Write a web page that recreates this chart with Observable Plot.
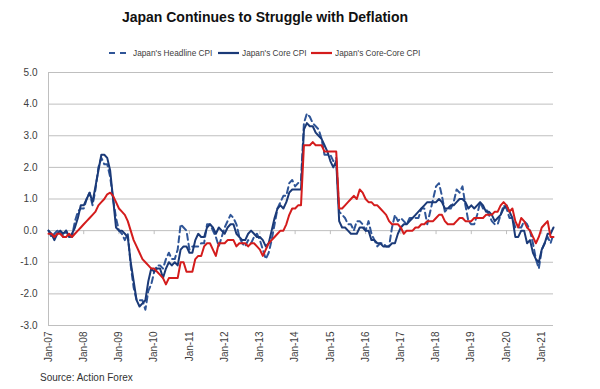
<!DOCTYPE html>
<html><head><meta charset="utf-8">
<script src="https://cdn.jsdelivr.net/npm/d3@7"></script>
<script src="https://cdn.jsdelivr.net/npm/@observablehq/plot@0.6"></script>
<style>
body{margin:0;background:#fff;}
#wrap{position:relative;width:600px;height:389px;font-family:"Liberation Sans",Arial,sans-serif;overflow:hidden;background:#fff;}
#title{position:absolute;left:0;width:530px;top:9px;text-align:center;font-weight:bold;font-size:14px;line-height:16px;color:#111;}
.li{position:absolute;top:47px;height:12px;display:flex;align-items:center;font-size:9px;line-height:12px;color:#404040;white-space:nowrap;}
.li svg{margin-right:3px;}
.li span{display:inline-block;transform:scaleX(0.92);transform-origin:0 50%;}
#chart{position:absolute;left:0;top:62px;}
#source{position:absolute;left:40px;top:372px;font-size:10px;line-height:12px;color:#333;}
</style>
</head><body>
<div id="wrap">
  <div id="title"></div>
  <div id="legend"></div>
  <div id="chart"></div>
  <div id="source"></div>
</div>
<script>
const titleText = "Japan Continues to Struggle with Deflation";
const sourceText = "Source: Action Forex";
const seriesNames = ["Japan's Headline CPI", "Japan's Core CPI", "Japan's Core-Core CPI"];
const xLabels = ["Jan-07","Jan-08","Jan-09","Jan-10","Jan-11","Jan-12","Jan-13","Jan-14","Jan-15","Jan-16","Jan-17","Jan-18","Jan-19","Jan-20","Jan-21"];
const yTicks = [-3,-2,-1,0,1,2,3,4,5];

// monthly y/y %, Jan 2007 - May 2021
const headline = [
  0.0,-0.2,-0.1,0.0,0.0,-0.2,0.0,-0.2,-0.2,0.3,0.6,0.7,
  0.7,1.0,1.2,0.8,1.3,2.0,2.3,2.1,2.1,1.7,1.0,0.4,
  0.0,-0.1,-0.3,-0.1,-1.1,-1.8,-2.2,-2.2,-2.2,-2.5,-1.9,-1.7,
  -1.3,-1.1,-1.1,-1.2,-0.9,-0.7,-0.9,-0.9,-0.6,0.2,0.1,0.0,
  -0.6,-0.5,-0.5,-0.5,-0.4,-0.4,0.2,0.2,0.0,-0.2,-0.5,-0.2,
  0.1,0.3,0.5,0.4,0.2,-0.2,-0.4,-0.5,-0.3,-0.4,-0.2,-0.1,
  -0.3,-0.6,-0.9,-0.7,-0.3,0.2,0.7,0.9,1.1,1.1,1.5,1.6,
  1.4,1.5,1.6,3.4,3.7,3.6,3.4,3.3,3.2,2.9,2.4,2.4,
  2.4,2.2,2.3,0.6,0.5,0.4,0.2,0.2,0.0,0.3,0.3,0.2,
  0.0,0.3,-0.1,-0.3,-0.5,-0.4,-0.4,-0.5,-0.5,0.1,0.5,0.3,
  0.4,0.3,0.2,0.4,0.4,0.4,0.4,0.7,0.7,0.2,0.6,1.0,
  1.4,1.5,1.1,0.6,0.7,0.7,0.9,1.3,1.2,1.4,0.8,0.3,
  0.2,0.2,0.5,0.9,0.7,0.7,0.5,0.3,0.2,0.2,0.5,0.8,
  0.7,0.4,0.4,0.1,0.1,0.1,0.3,0.2,0.0,-0.4,-0.9,-1.2,
  -0.6,-0.4,-0.2,-0.4,-0.1
];
const core = [
  0.0,-0.1,-0.3,-0.1,0.0,-0.1,0.0,-0.2,-0.1,0.1,0.4,0.8,
  0.8,1.0,1.2,0.9,1.4,1.9,2.4,2.4,2.3,1.9,1.0,0.1,
  0.0,0.0,-0.1,-0.2,-1.0,-1.6,-2.2,-2.4,-2.3,-2.2,-1.6,-1.2,
  -1.3,-1.2,-1.2,-1.5,-1.2,-1.0,-1.1,-1.0,-1.1,-0.6,-0.5,-0.5,
  -0.7,-0.7,-0.3,-0.1,-0.2,-0.2,0.1,0.2,0.1,-0.1,0.1,0.0,
  -0.1,0.1,0.2,0.2,-0.1,-0.2,-0.3,-0.3,-0.1,0.0,-0.1,-0.2,
  -0.2,-0.3,-0.5,-0.4,0.0,0.4,0.7,0.8,0.7,0.9,1.2,1.3,
  1.3,1.3,1.3,3.2,3.4,3.3,3.3,3.1,3.0,2.9,2.7,2.5,
  2.2,2.0,2.2,0.3,0.1,0.1,0.0,-0.1,-0.1,-0.1,0.1,0.1,
  0.0,0.0,-0.3,-0.3,-0.4,-0.4,-0.5,-0.5,-0.5,-0.4,-0.4,-0.1,
  0.1,0.2,0.2,0.3,0.4,0.5,0.6,0.7,0.8,0.9,0.9,0.9,
  0.9,1.0,0.9,0.7,0.7,0.8,0.8,0.9,1.0,1.0,0.9,0.7,
  0.8,0.7,0.8,0.9,0.8,0.6,0.6,0.5,0.3,0.4,0.5,0.7,
  0.8,0.6,0.4,-0.2,-0.2,0.0,0.0,-0.4,-0.3,-0.7,-0.9,-1.0,
  -0.6,-0.4,-0.1,-0.1,0.1
];
const coreCore = [
  -0.1,-0.1,-0.2,-0.1,-0.1,-0.2,-0.2,-0.1,-0.2,-0.1,0.0,0.1,
  0.2,0.3,0.4,0.5,0.6,0.8,0.9,1.0,1.15,1.2,1.1,0.9,
  0.7,0.6,0.5,0.3,0.0,-0.3,-0.5,-0.7,-0.9,-1.0,-1.1,-1.2,
  -1.2,-1.3,-1.4,-1.5,-1.7,-1.5,-1.5,-1.5,-1.5,-1.0,-1.0,-1.3,
  -1.3,-1.3,-0.9,-0.8,-0.8,-0.5,-0.4,-0.4,-0.6,-0.8,-0.4,-0.4,
  -0.4,-0.3,-0.3,-0.3,-0.5,-0.4,-0.4,-0.4,-0.5,-0.4,-0.4,-0.5,
  -0.6,-0.8,-0.6,-0.4,-0.3,-0.2,-0.1,0.0,0.0,0.2,0.5,0.7,
  0.7,0.8,0.8,2.7,2.7,2.7,2.8,2.7,2.7,2.7,2.5,2.5,
  2.5,2.5,2.5,0.7,0.7,0.8,0.9,1.0,1.1,1.0,1.3,1.2,
  1.0,0.9,0.9,0.8,0.8,0.7,0.6,0.5,0.3,0.2,0.2,0.2,
  0.1,-0.1,0.0,0.0,0.0,0.1,0.1,0.2,0.2,0.3,0.3,0.3,
  0.4,0.5,0.5,0.3,0.2,0.2,0.2,0.3,0.4,0.4,0.3,0.3,
  0.3,0.4,0.4,0.4,0.4,0.5,0.5,0.5,0.6,0.6,0.8,0.9,
  0.8,0.6,0.7,0.3,0.1,0.4,0.3,0.1,0.0,-0.2,-0.4,-0.2,
  0.1,0.2,0.3,-0.2,-0.2
];
const seriesValues = [headline, core, coreCore];
const seriesColors = ["#2f5597", "#1b3a78", "#d41c1c"];
const seriesDash = ["6,4", null, null];
const legendLeft = [109, 218, 311];

document.getElementById("title").textContent = titleText;
document.getElementById("source").textContent = sourceText;

// legend
const legend = document.getElementById("legend");
seriesNames.forEach((name, k) => {
  const div = document.createElement("div");
  div.className = "li";
  div.style.left = legendLeft[k] + "px";
  const dash = seriesDash[k] ? `stroke-dasharray="6,5"` : "";
  div.innerHTML = `<svg width="21" height="4"><line x1="0" y1="2" x2="21" y2="2" stroke="${seriesColors[k]}" stroke-width="2.2" ${dash}/></svg><span></span>`;
  div.querySelector("span").textContent = name;
  legend.appendChild(div);
});

const xTickPos = xLabels.map((_, i) => i * 12);
const nMonths = headline.length;

const data = [];
seriesNames.forEach((name, k) => seriesValues[k].forEach((v, i) => data.push({series: name, m: i, v})));

const chart = Plot.plot({
  width: 600,
  height: 310,
  marginLeft: 48,
  marginRight: 47,
  marginTop: 10,
  marginBottom: 47,
  x: {domain: [0, nMonths - 1], label: null},
  y: {domain: [-3, 5], label: null},
  style: {fontFamily: '"Liberation Sans", Arial, sans-serif', fontSize: "10px", color: "#404040", background: "#fff"},
  marks: [
    Plot.ruleY(yTicks, {stroke: "#bfbfbf", strokeWidth: 1, strokeOpacity: 1}),
    Plot.ruleX([0], {stroke: "#bfbfbf", strokeWidth: 1, strokeOpacity: 1}),
    Plot.ruleX(xTickPos, {x: d => d, y1: d => 0, y2: d => 0, insetBottom: -4, stroke: "#bfbfbf", strokeOpacity: 1}),
    Plot.axisY({ticks: yTicks, tickSize: 0, tickPadding: 11, tickFormat: d => d.toFixed(1), fontSize: 10, label: null}),
    Plot.axisX({ticks: xTickPos, tickSize: 0, tickPadding: 6, tickRotate: -90, tickFormat: d => xLabels[d / 12], fontSize: 10, label: null}),
    ...seriesNames.map((name, k) => Plot.line(data.filter(d => d.series === name), {
      x: "m", y: "v", stroke: seriesColors[k], strokeWidth: 2,
      strokeDasharray: seriesDash[k] || undefined, strokeLinejoin: "round"
    }))
  ]
});
document.getElementById("chart").appendChild(chart);
</script>
</body></html>
